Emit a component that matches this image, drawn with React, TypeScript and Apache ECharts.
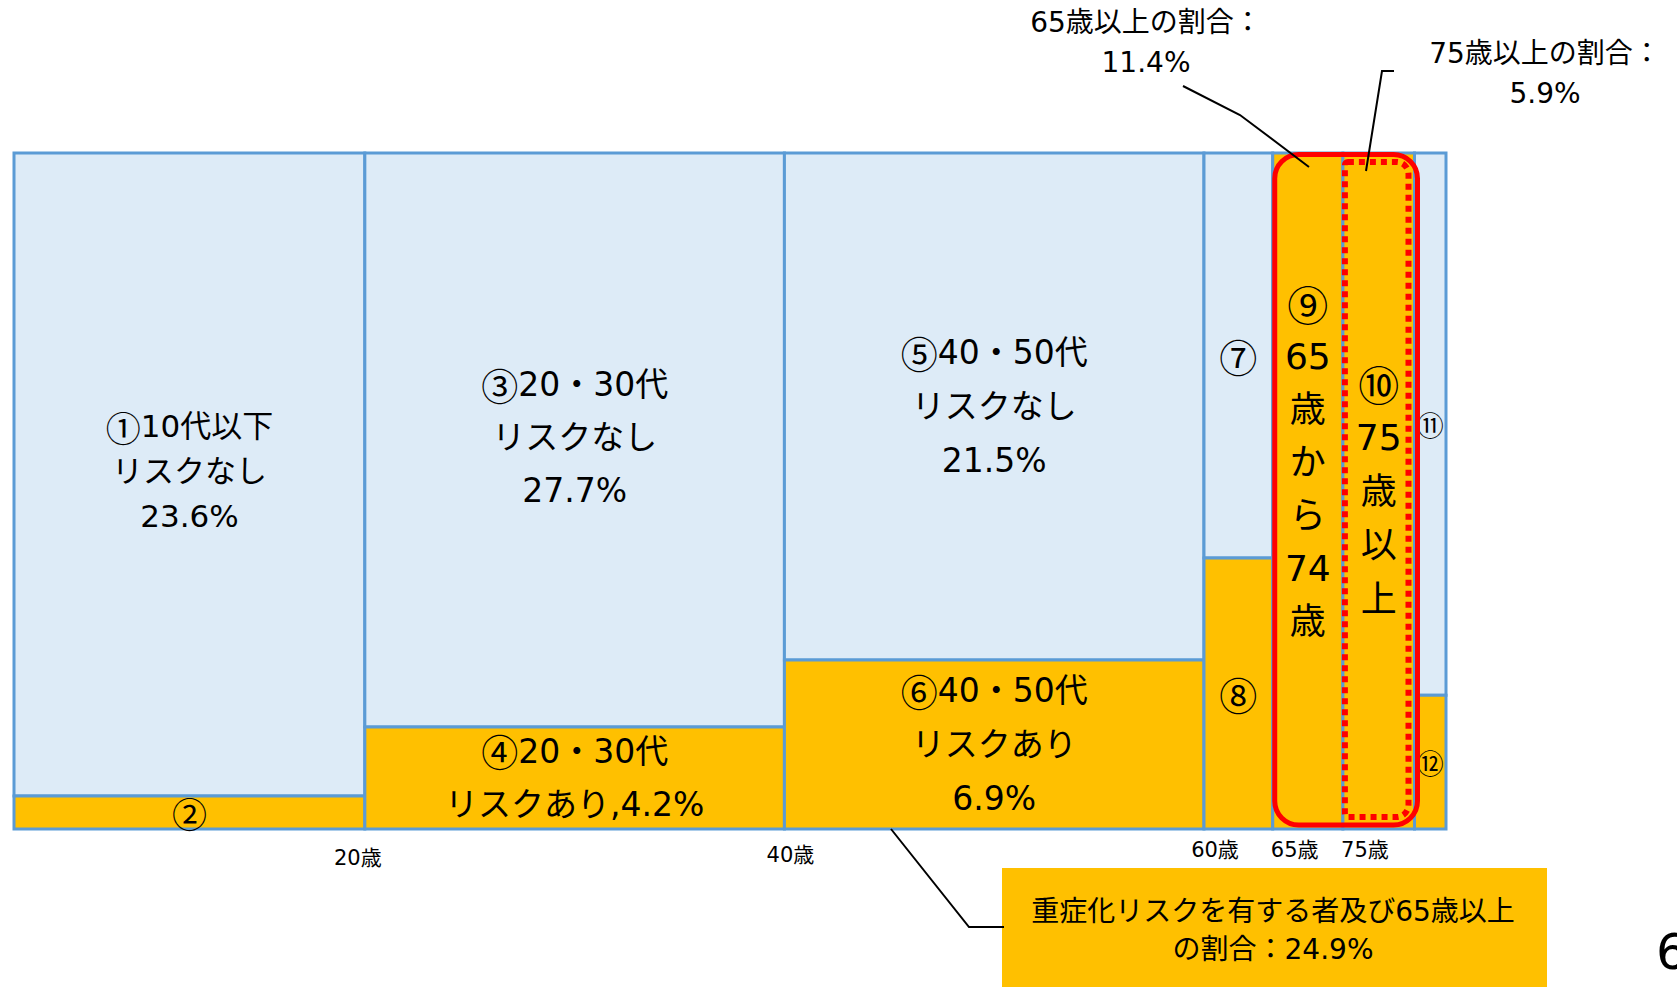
import React, { useEffect, useRef } from 'react';
import * as echarts from 'echarts';

// ---- data ----
const columnNames = ['10代以下', '20・30代', '40・50代', '60〜64歳', '65〜74歳', '75歳以上', 'その他'];
const columnShares = [24.5, 29.3, 29.3, 4.8, 4.9, 5.0, 2.2]; // width of each column (% of x)
const riskShares = [4.9, 15.1, 25.0, 40.1, 100, 100, 19.8]; // % of column height with risk (bottom, orange)
const noRiskLabels = ['①10代以下\nリスクなし\n23.6%', '③20・30代\nリスクなし\n27.7%', '⑤40・50代\nリスクなし\n21.5%', '⑦', '', '', '⑪'];
const riskLabels = ['②', '④20・30代\nリスクあり,4.2%', '⑥40・50代\nリスクあり\n6.9%', '⑧', '⑨\n65\n歳\nか\nら\n74\n歳', '⑩\n75\n歳\n以\n上', '⑫'];
const tickLabels = ['20歳', '40歳', '60歳', '65歳', '75歳'];
const tickAfterColumn = [0, 1, 2, 3, 4];
const share65Label = '65歳以上の割合：\n11.4%';
const share75Label = '75歳以上の割合：\n5.9%';
const totalLabel = '重症化リスクを有する者及び65歳以上\nの割合：24.9%';
const pageNumber = '6';

// ---- styles ----
const FONT = "'DejaVu Sans', 'Noto Sans CJK JP', sans-serif";
const CJK = "'Noto Sans CJK JP', sans-serif";
const labelFontSize = [31, 33, 33, 34, 36, 36, 24];
const labelLineHeight = [45, 53, 54, 34, 53, 54, 24];
const circledScale = 1.13;
const riskLabelDy = [0, 0, 0, 0, -29, 0, 0];
const noRiskLabelDy = [-3, -2, 0, 0, 0, 0, 0];
const tickDx = [-7, 6, 11, 22, 22];
const tickDy = [29, 26, 21, 21, 21];

const starts: number[] = [];
columnShares.reduce((acc, w) => { starts.push(acc); return acc + w; }, 0);
const total = columnShares.reduce((a, b) => a + b, 0);

function labelText(text: string, i: number) {
  return {
    text: text.replace(/([\u2460-\u2473])/g, '{c|$1}'),
    fill: '#000',
    fontFamily: FONT,
    fontSize: labelFontSize[i],
    lineHeight: labelLineHeight[i],
    align: 'center',
    verticalAlign: 'middle',
    rich: {
      c: { fontFamily: CJK, fontSize: Math.round(labelFontSize[i] * circledScale), lineHeight: labelLineHeight[i], fill: '#000' },
    },
  };
}

export default function App() {
  const ref = useRef<HTMLDivElement>(null);
  useEffect(() => {
    if (!ref.current) return;
    const chart = echarts.init(ref.current, undefined, { renderer: 'svg' });
    const colData = columnShares.map((w, i) => [starts[i], starts[i] + w, riskShares[i], i]);
    const tickData = tickAfterColumn.map((c, i) => [starts[c] + columnShares[c], i]);

    chart.setOption({
      animation: false,
      backgroundColor: '#ffffff',
      grid: { left: 14, right: 231, top: 153, bottom: 158 },
      xAxis: { type: 'value', min: 0, max: total, show: false },
      yAxis: { type: 'value', min: 0, max: 100, show: false },
      series: [
        {
          type: 'custom',
          name: 'columns',
          data: colData,
          encode: { x: [0, 1], y: 2 },
          renderItem: (params: any, api: any) => {
            const x0 = api.value(0), x1 = api.value(1), r = api.value(2), i = api.value(3);
            const bl = api.coord([x0, 0]);
            const tr = api.coord([x1, 100]);
            const sp = api.coord([x0, r]);
            const left = bl[0], right = tr[0], top = tr[1], bottom = bl[1], split = sp[1];
            const cx = (left + right) / 2;
            const children: any[] = [];
            if (r < 100) {
              children.push({ type: 'rect', shape: { x: left, y: top, width: right - left, height: split - top }, style: { fill: '#DDEBF7', stroke: '#5B9BD5', lineWidth: 3 } });
            }
            if (r > 0) {
              children.push({ type: 'rect', shape: { x: left, y: split, width: right - left, height: bottom - split }, style: { fill: '#FFC000', stroke: '#5B9BD5', lineWidth: 3 } });
            }
            if (r < 100 && noRiskLabels[i]) {
              children.push({ type: 'text', x: cx, y: (top + split) / 2 + noRiskLabelDy[i], z2: 10, style: labelText(noRiskLabels[i], i) });
            }
            if (r > 0 && riskLabels[i]) {
              children.push({ type: 'text', x: cx, y: (split + bottom) / 2 + riskLabelDy[i], z2: 10, style: labelText(riskLabels[i], i) });
            }
            return { type: 'group', children };
          },
          z: 2,
        },
        {
          type: 'custom',
          name: 'highlight',
          data: [[starts[4], starts[5], starts[5] + columnShares[5]]],
          encode: { x: [0, 2] },
          renderItem: (params: any, api: any) => {
            const a = api.coord([api.value(0), 100]);
            const b = api.coord([api.value(1), 0]);
            const c = api.coord([api.value(2), 0]);
            const top = a[1], bottom = b[1];
            return {
              type: 'group',
              children: [
                { type: 'rect', z2: 20, shape: { x: a[0] + 2, y: top + 1.5, width: c[0] + 3 - (a[0] + 2), height: bottom - 4 - (top + 1.5), r: 24 }, style: { fill: 'none', stroke: '#FF0000', lineWidth: 5 } },
                { type: 'rect', z2: 21, shape: { x: b[0] + 2, y: top + 9, width: c[0] - 6 - (b[0] + 2), height: bottom - 12 - (top + 9), r: [3, 12, 12, 3] }, style: { fill: 'none', stroke: '#FF0000', lineWidth: 6, lineDash: [6, 5] } },
              ],
            };
          },
          z: 5,
        },
        {
          type: 'custom',
          name: 'ticks',
          data: tickData,
          encode: { x: 0 },
          renderItem: (params: any, api: any) => {
            const v = api.value(0), i = api.value(1);
            const p = api.coord([v, 0]);
            return { type: 'text', x: p[0] + tickDx[i], y: p[1] + tickDy[i], style: { text: tickLabels[i], fill: '#000', fontFamily: FONT, fontSize: 21, align: 'center', verticalAlign: 'middle' } };
          },
          z: 3,
        },
      ],
      graphic: [
        { type: 'text', x: 1146, y: 42, style: { text: share65Label, fill: '#000', fontFamily: FONT, fontSize: 28, lineHeight: 40, align: 'center', verticalAlign: 'middle' } },
        { type: 'text', x: 1545, y: 73, style: { text: share75Label, fill: '#000', fontFamily: FONT, fontSize: 28, lineHeight: 40, align: 'center', verticalAlign: 'middle' } },
        { type: 'polyline', shape: { points: [[1183, 86], [1240, 115], [1309, 167]] }, style: { stroke: '#000', lineWidth: 2, fill: 'none' }, z: 30 },
        { type: 'polyline', shape: { points: [[1394, 71], [1382, 71], [1366, 171]] }, style: { stroke: '#000', lineWidth: 2, fill: 'none' }, z: 30 },
        { type: 'rect', shape: { x: 1002, y: 868, width: 545, height: 119 }, style: { fill: '#FFC000' } },
        { type: 'text', x: 1273, y: 930, style: { text: totalLabel, fill: '#000', fontFamily: FONT, fontSize: 28, lineHeight: 38, align: 'center', verticalAlign: 'middle' } },
        { type: 'polyline', shape: { points: [[891, 829], [969, 927], [1004, 927]] }, style: { stroke: '#000', lineWidth: 2, fill: 'none' }, z: 30 },
        { type: 'text', x: 1656, y: 952, style: { text: pageNumber, fill: '#000', fontFamily: FONT, fontSize: 50, align: 'left', verticalAlign: 'middle' } },
      ],
    });
    return () => chart.dispose();
  }, []);
  return <div ref={ref} style={{ position: 'fixed', left: 0, top: 0, width: 1677, height: 987 }} data-names={columnNames.join(',')} />;
}
